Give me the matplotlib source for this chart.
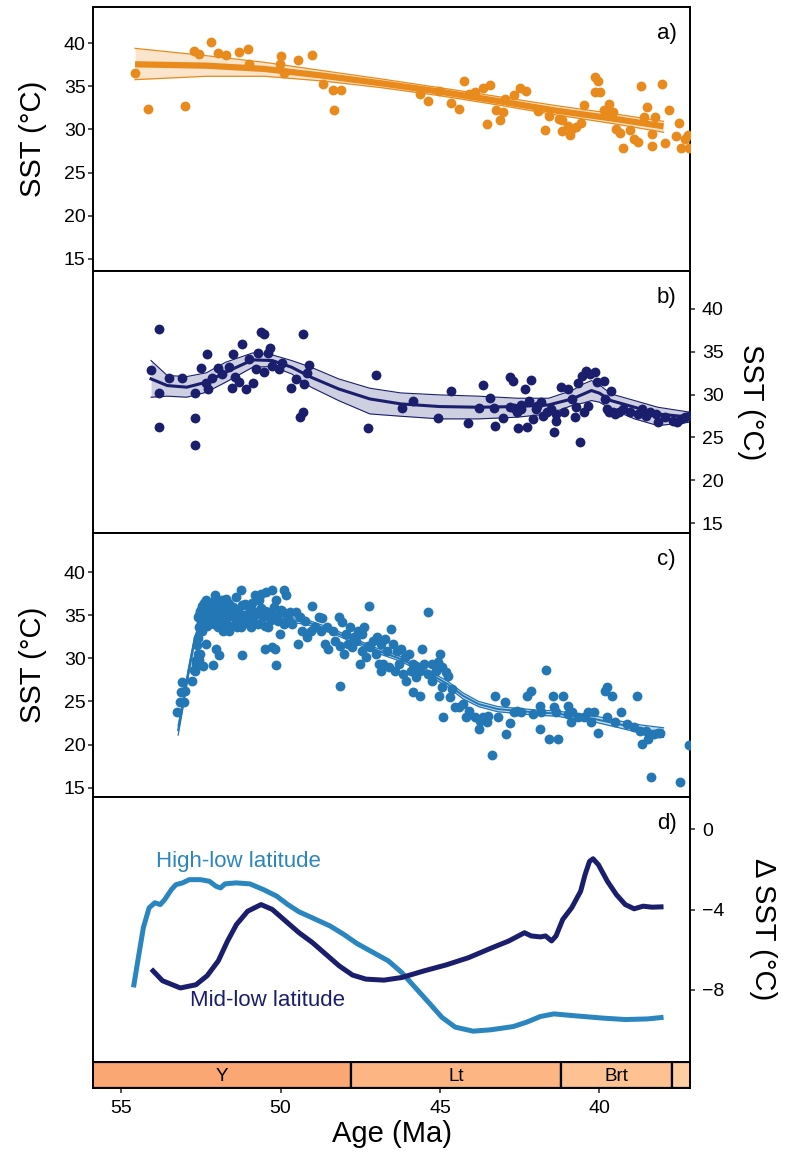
import matplotlib
matplotlib.use("Agg")
import matplotlib.pyplot as plt

plt.rcParams['font.family'] = ['Liberation Sans', 'DejaVu Sans']

# ---- panel a: mid/low-latitude SST (orange) ----
a_age = [54.56, 54.16, 53.01, 52.72, 52.54, 52.18, 51.96, 51.70, 51.31, 51.02,
         50.98, 50.01, 49.97, 49.88, 49.44, 49.00, 48.67, 48.36, 48.10, 48.31,
         45.64, 45.37, 45.04, 44.64, 44.40, 44.25, 44.09, 43.91, 43.66, 43.44,
         43.54, 43.24, 43.12, 43.03, 42.96, 42.69, 42.49, 42.30, 41.93, 41.71,
         41.57, 41.28, 41.16, 41.00, 40.92, 40.74, 40.59, 40.49, 40.15, 40.03,
         40.13, 39.98, 39.86, 39.70, 39.58, 39.49, 39.37, 39.25, 39.03, 38.91,
         38.79, 38.71, 38.60, 38.50, 38.36, 38.36, 38.27, 38.03, 37.93, 37.83,
         37.61, 37.50, 37.44, 37.32, 37.20, 37.22, 41.16, 40.86, 39.76]
a_sst = [36.6, 32.4, 32.7, 39.1, 38.7, 40.2, 38.9, 38.6, 39.0, 39.3,
         37.6, 37.6, 38.5, 36.6, 38.1, 38.6, 35.3, 34.6, 34.6, 32.2,
         34.1, 33.3, 34.5, 33.1, 32.4, 35.6, 34.1, 34.4, 34.8, 35.2,
         30.6, 32.3, 31.1, 32.0, 33.5, 34.0, 34.8, 34.5, 32.1, 29.9,
         31.6, 31.2, 29.8, 30.4, 29.4, 30.3, 30.8, 32.8, 36.1, 35.6,
         34.4, 34.4, 32.2, 33.0, 32.0, 30.0, 29.6, 27.9, 29.9, 28.9,
         28.6, 35.0, 31.4, 32.6, 29.5, 28.1, 31.4, 35.3, 28.4, 32.2,
         29.2, 30.8, 27.9, 28.9, 27.9, 29.3, 31.1, 30.1, 32.0]
a_fit_age = [54.56, 52.33, 50.50, 48.67, 46.84, 45.01, 43.18, 41.35, 39.51, 37.99]
a_fit = [37.56, 37.40, 37.02, 36.24, 35.35, 34.39, 33.30, 32.18, 31.22, 30.36]
a_fit_hi = [39.41, 38.56, 37.79, 36.82, 35.86, 34.85, 33.81, 32.76, 31.80, 30.94]
a_fit_lo = [35.78, 36.17, 36.17, 35.62, 34.85, 33.92, 32.84, 31.68, 30.64, 29.67]

# ---- panel b: mid-latitude SST (navy) ----
b_age = [54.06, 53.80, 53.80, 53.80, 53.50, 53.10, 52.67, 52.67, 52.67, 52.49,
         52.29, 52.33, 52.27, 52.15, 51.96, 51.84, 51.63, 51.50, 51.51, 51.42,
         51.29, 51.20, 51.07, 50.99, 50.87, 50.77, 50.72, 50.62, 50.52, 50.52,
         50.40, 50.32, 50.26, 50.05, 49.95, 49.68, 49.52, 49.40, 49.29, 49.28,
         49.25, 49.16, 49.10, 47.25, 47.01, 46.18, 45.85, 45.07, 44.64, 44.13,
         43.79, 43.64, 43.42, 43.30, 43.27, 43.02, 42.81, 42.71, 42.69, 42.57,
         42.54, 42.47, 42.32, 42.27, 42.20, 42.13, 42.08, 41.98, 41.83, 41.77,
         41.65, 41.53, 41.43, 41.37, 41.20, 41.10, 40.98, 40.86, 40.76, 40.67,
         40.61, 40.55, 40.49, 40.43, 40.31, 40.13, 40.07, 39.86, 39.82, 39.76,
         39.64, 39.58, 39.39, 39.27, 39.03, 38.78, 38.66, 38.54, 38.42, 38.23,
         38.15, 37.93, 37.69, 37.56, 37.44, 37.32, 37.20, 42.81, 42.45, 41.96,
         41.35, 40.73, 40.37, 39.70, 39.52]
b_sst = [32.88, 37.67, 30.16, 26.19, 31.95, 31.91, 30.16, 27.28, 24.16, 33.07,
         34.71, 31.36, 30.66, 31.91, 33.07, 32.41, 33.19, 34.75, 30.74, 32.02,
         31.44, 35.91, 30.66, 34.16, 31.32, 32.99, 34.86, 37.28, 37.08, 32.61,
         34.86, 35.45, 33.39, 32.99, 33.70, 30.78, 31.83, 27.36, 27.94, 37.08,
         31.28, 32.53, 33.50, 26.11, 32.30, 28.41, 29.30, 27.28, 30.43, 26.69,
         28.41, 31.13, 29.61, 28.41, 26.38, 27.24, 32.02, 31.63, 28.41, 27.94,
         26.11, 28.79, 30.66, 26.19, 29.30, 31.75, 27.16, 28.33, 29.11, 27.55,
         27.94, 28.33, 25.60, 26.96, 30.86, 27.94, 30.66, 29.49, 27.36, 31.36,
         24.43, 32.22, 27.94, 32.80, 32.41, 32.68, 31.44, 31.63, 29.49, 28.33,
         30.47, 27.94, 27.94, 28.33, 27.94, 27.74, 28.33, 27.55, 27.94, 27.74,
         26.77, 27.36, 26.96, 26.77, 27.16, 27.36, 27.55, 28.52, 28.33, 28.72,
         27.74, 28.52, 28.72, 28.01, 27.74]
b_fit_age = [54.06, 53.55, 52.94, 52.33, 51.72, 50.87, 50.26, 49.65, 49.04, 48.18,
             47.20, 46.23, 45.01, 43.79, 42.57, 41.59, 40.86, 40.49, 40.25, 40.00,
             39.64, 38.90, 38.17, 37.16]
b_fit = [31.83, 31.05, 30.86, 31.44, 32.61, 34.05, 33.97, 33.19, 32.02, 30.66,
         29.49, 28.91, 28.60, 28.52, 28.60, 28.79, 29.49, 30.08, 30.47, 30.16,
         29.30, 28.52, 27.74, 27.36]
b_fit_hi = [33.97, 32.22, 32.10, 32.53, 33.77, 34.86, 34.63, 33.97, 33.19, 31.83,
            30.74, 30.19, 29.96, 29.81, 29.57, 29.57, 30.47, 31.25, 31.63, 31.13,
            30.08, 29.30, 28.52, 27.94]
b_fit_lo = [29.69, 29.81, 29.69, 30.27, 31.44, 33.19, 33.27, 32.41, 30.86, 29.30,
            27.74, 27.47, 27.16, 27.16, 27.36, 27.74, 28.72, 29.03, 29.30, 29.11,
            28.33, 27.16, 26.38, 26.77]

# ---- panel c: high-latitude SST (blue) ----
c_age = [53.25, 53.16, 53.12, 53.09, 53.04, 53.00, 52.76, 52.67, 52.64, 52.60,
         52.51, 52.45, 52.33, 52.21, 52.06, 51.96, 51.84, 51.72, 51.60, 51.38,
         51.23, 51.11, 50.99, 50.80, 50.62, 50.44, 50.26, 50.13, 49.89, 49.83,
         49.71, 49.52, 49.40, 49.22, 49.01, 48.79, 48.69, 48.55, 48.36, 48.18,
         48.06, 47.94, 47.81, 47.69, 47.57, 47.45, 47.39, 47.23, 47.11, 46.96,
         46.84, 46.72, 46.53, 46.47, 46.35, 46.23, 46.11, 45.98, 45.86, 45.74,
         45.56, 45.37, 45.25, 45.07, 45.01, 44.95, 44.82, 44.74, 45.86, 45.64,
         45.04, 44.89, 44.52, 44.40, 44.18, 43.79, 43.66, 43.54, 43.38, 43.27,
         42.97, 42.93, 42.81, 42.57, 42.26, 42.16, 41.87, 41.87, 41.69, 41.59,
         41.44, 41.41, 41.29, 41.13, 41.00, 40.88, 40.86, 40.37, 40.16, 40.03,
         39.82, 39.76, 39.59, 39.33, 38.81, 38.66, 38.48, 38.37, 38.17, 37.46,
         37.20,
         52.57, 52.45, 52.39, 52.33, 52.51, 52.43, 52.11, 52.03, 51.94, 52.33,
         52.21, 52.09, 51.96, 51.84, 51.72, 51.60, 51.48, 51.35, 51.23, 51.21,
         51.05, 50.93, 50.87, 50.74, 50.56, 50.48, 50.26, 50.18, 50.13, 50.01,
         50.38, 50.50, 50.68, 50.87, 50.26, 50.07, 49.95, 49.77, 49.65, 49.46,
         49.34, 49.16, 49.04, 48.91, 48.73, 48.60, 48.50, 48.30, 48.12, 48.12,
         48.00, 47.88, 47.75, 47.63, 47.51, 47.45, 47.33, 47.27, 47.18, 47.02,
         46.90, 46.84, 46.78, 46.66, 46.59, 46.41, 46.29, 46.17, 46.05, 45.92,
         45.74, 45.62, 45.50, 45.37, 45.25, 45.13, 44.95, 44.70, 44.62, 44.28,
         44.09, 43.91, 43.73, 43.48, 43.18, 42.69, 42.45, 42.08, 41.83, 41.35,
         40.98, 40.67, 40.49, 40.25, 39.76, 39.52, 39.15, 38.90, 38.72, 38.54,
         38.29, 38.11,
         52.55, 52.50, 52.45, 52.40, 52.35, 52.30, 52.25, 52.20, 52.15, 52.10,
         52.05, 52.00, 51.95, 51.90, 51.85, 51.80, 51.75, 51.70, 51.65, 51.60,
         51.55, 51.50, 51.45, 51.40, 51.35, 51.30, 51.25, 51.20, 51.10, 51.00,
         50.90, 50.80, 50.70, 50.60, 50.50, 50.40, 50.30, 50.20, 50.10, 50.00,
         49.90, 49.80, 52.62, 52.60, 52.58, 52.66, 52.70, 52.55]
c_sst = [23.72, 24.88, 26.05, 27.21, 24.88, 26.24, 27.40, 28.57, 29.34, 34.77,
         35.54, 36.12, 36.71, 35.93, 37.29, 36.51, 36.71, 36.90, 36.32, 37.09,
         37.87, 36.32, 35.93, 37.29, 37.48, 37.67, 37.87, 36.71, 37.87, 37.29,
         35.35, 35.35, 34.77, 34.38, 36.01, 34.77, 34.69, 33.61, 33.22, 34.77,
         34.19, 32.83, 33.61, 32.44, 33.22, 32.83, 33.61, 36.01, 32.05, 32.44,
         31.67, 32.25, 33.41, 31.67, 30.89, 31.08, 30.12, 30.50, 29.34, 29.15,
         31.08, 35.35, 29.34, 29.53, 30.50, 28.95, 28.37, 27.98, 26.05, 25.58,
         25.58, 23.14, 24.30, 24.30, 23.14, 21.86, 23.14, 22.56, 18.76, 25.58,
         24.88, 21.28, 22.48, 23.91, 25.66, 26.16, 24.42, 21.86, 28.64, 20.62,
         25.58, 24.38, 20.62, 25.66, 24.50, 22.56, 23.72, 23.72, 23.72, 21.39,
         26.24, 26.71, 25.58, 23.72, 25.58, 20.12, 20.62, 16.24, 21.39, 15.70,
         19.96,
         33.61, 33.22, 33.99, 31.67, 30.50, 29.15, 29.27, 31.08, 30.43, 34.77,
         34.38, 33.99, 35.16, 34.57, 33.99, 33.22, 35.16, 34.38, 33.61, 30.43,
         34.77, 33.61, 34.38, 35.16, 34.77, 31.08, 31.28, 31.08, 29.22, 32.83,
         33.61, 35.54, 36.71, 35.54, 35.16, 34.38, 35.54, 34.57, 33.99, 31.67,
         33.22, 32.44, 33.22, 33.61, 33.22, 31.67, 31.08, 32.05, 31.47, 26.82,
         30.50, 31.67, 31.28, 32.05, 29.34, 30.89, 30.12, 31.47, 31.28, 30.50,
         29.34, 28.57, 29.34, 30.89, 28.95, 28.57, 29.34, 28.18, 27.40, 28.57,
         27.79, 28.57, 29.34, 28.18, 27.40, 28.57, 26.63, 25.47, 26.43, 24.69,
         23.93, 23.14, 22.75, 23.33, 23.14, 23.72, 23.72, 23.53, 23.72, 23.72,
         23.53, 23.14, 23.14, 22.56, 23.14, 22.56, 22.36, 21.98, 21.58, 21.58,
         21.20, 21.39,
         35.0, 34.2, 35.8, 36.4, 35.2, 33.8, 36.0, 34.8, 35.6, 36.6,
         34.4, 35.8, 33.6, 36.2, 35.0, 33.2, 35.6, 34.6, 36.4, 35.0,
         33.8, 36.0, 34.8, 35.6, 33.6, 35.2, 34.2, 36.2, 35.0, 34.0,
         36.4, 35.2, 34.0, 35.8, 33.8, 35.4, 34.4, 36.0, 34.8, 35.6,
         34.0, 35.0, 31.5, 30.5, 32.4, 29.8, 28.6, 29.8]
c_fit_age = [53.21, 53.06, 52.88, 52.70, 52.45, 51.96, 51.11, 50.50, 49.89, 49.16,
             48.42, 47.69, 46.96, 46.23, 45.50, 44.76, 44.28, 43.79, 43.18, 42.57,
             41.96, 41.35, 40.86, 40.13, 39.39, 38.66, 37.99]
c_fit = [21.67, 24.69, 28.57, 32.05, 34.69, 35.16, 35.16, 34.84, 34.57, 34.19,
         33.22, 32.05, 30.89, 29.92, 28.57, 27.02, 25.66, 24.69, 24.11, 23.91,
         23.72, 23.60, 23.33, 22.95, 22.36, 21.78, 21.39]
c_fit_hi = [22.2, 25.2, 29.0, 32.4, 35.0, 35.45, 35.45, 35.1, 34.85, 34.45,
            33.5, 32.3, 31.15, 30.2, 28.85, 27.35, 26.0, 25.0, 24.4, 24.2,
            24.0, 23.9, 23.65, 23.3, 22.75, 22.25, 21.95]
c_fit_lo = [21.1, 24.2, 28.1, 31.7, 34.4, 34.85, 34.85, 34.55, 34.3, 33.9,
            32.95, 31.8, 30.6, 29.65, 28.3, 26.7, 25.3, 24.4, 23.8, 23.6,
            23.4, 23.3, 23.0, 22.6, 21.95, 21.3, 20.85]

# ---- panel d: SST gradients ----
hl_age = [54.61, 54.44, 54.30, 54.12, 53.94, 53.77, 53.63, 53.42, 53.28, 53.07,
          52.86, 52.51, 52.23, 52.02, 51.88, 51.74, 51.39, 50.96, 50.54, 50.12,
          49.77, 49.42, 49.00, 48.44, 48.02, 47.60, 47.18, 46.62, 46.20, 45.78,
          45.36, 44.94, 44.52, 43.96, 43.40, 42.70, 42.28, 41.85, 41.43, 40.87,
          39.89, 39.19, 38.49, 37.99]
hl_dsst = [-7.87, -6.22, -4.90, -3.91, -3.66, -3.75, -3.50, -3.00, -2.76, -2.67,
           -2.51, -2.51, -2.59, -2.84, -2.92, -2.72, -2.67, -2.72, -3.00, -3.33,
           -3.75, -4.11, -4.41, -4.82, -5.23, -5.69, -6.06, -6.55, -7.13, -7.87,
           -8.61, -9.36, -9.85, -10.05, -9.98, -9.82, -9.60, -9.32, -9.19, -9.27,
           -9.40, -9.47, -9.44, -9.36]
ml_age = [54.05, 53.70, 53.14, 52.65, 52.30, 51.95, 51.66, 51.38, 51.03, 50.61,
          50.26, 49.84, 49.42, 49.00, 48.58, 48.16, 47.74, 47.32, 46.76, 46.20,
          45.50, 44.80, 44.10, 43.40, 42.84, 42.35, 42.14, 41.85, 41.69, 41.50,
          41.36, 41.15, 40.87, 40.59, 40.45, 40.31, 40.20, 40.03, 39.75, 39.47,
          39.19, 38.91, 38.63, 38.35, 37.99]
ml_dsst = [-6.96, -7.54, -7.90, -7.74, -7.29, -6.55, -5.56, -4.74, -4.08, -3.75,
           -3.99, -4.57, -5.15, -5.64, -6.22, -6.80, -7.26, -7.46, -7.51, -7.38,
           -7.05, -6.75, -6.39, -5.92, -5.56, -5.15, -5.31, -5.36, -5.31, -5.56,
           -5.31, -4.49, -3.91, -3.09, -2.26, -1.60, -1.47, -1.77, -2.59, -3.25,
           -3.75, -3.96, -3.83, -3.88, -3.86]

# ---- geologic stages ----
stage_names = ['Y', 'Lt', 'Brt', '']
stage_old = [56.0, 47.8, 41.2, 37.71]
stage_young = [47.8, 41.2, 37.71, 33.9]
stage_colors = ['#FBA774', '#FCB583', '#FDC192', '#FDCEA2']

sst_ticks = [15, 20, 25, 30, 35, 40]
d_ticks = [0, -4, -8]
age_ticks = [55, 50, 45, 40]

ORANGE = '#E88A1C'
NAVY = '#1B1E6C'
BLUE = '#2377B4'
LBLUE = '#2B86BF'
XLIM = (55.87, 37.16)

fig = plt.figure(figsize=(7.92, 11.62), dpi=100)
L, W = 0.1178, 0.7534
ax_a = fig.add_axes([L, 0.7670, W, 0.2269])
ax_b = fig.add_axes([L, 0.5410, W, 0.2260])
ax_c = fig.add_axes([L, 0.3144, W, 0.2267])
ax_d = fig.add_axes([L, 0.0863, W, 0.2281])
ax_t = fig.add_axes([L, 0.0634, W, 0.0229])

for ax in (ax_a, ax_b, ax_c, ax_d, ax_t):
    ax.set_xlim(*XLIM)
    for s in ax.spines.values():
        s.set_linewidth(1.4)
        s.set_color('black')
    ax.tick_params(axis='both', length=3.5, width=1.2, color='#333333',
                   labelsize=14, labelcolor='black', pad=2)
    ax.tick_params(axis='x', bottom=False, labelbottom=False)

# panel a
ax_a.fill_between(a_fit_age, a_fit_lo, a_fit_hi, color='#FBE4CC', lw=0)
ax_a.plot(a_fit_age, a_fit_hi, color=ORANGE, lw=0.9)
ax_a.plot(a_fit_age, a_fit_lo, color=ORANGE, lw=0.9)
ax_a.scatter(a_age, a_sst, s=50, color=ORANGE, lw=0, zorder=3)
ax_a.plot(a_fit_age, a_fit, color=ORANGE, lw=4.5, zorder=4, solid_capstyle='butt')
ax_a.set_ylim(13.6, 44.2)
ax_a.set_yticks(sst_ticks)
ax_a.set_ylabel('SST (°C)', fontsize=21, labelpad=12)

# panel b
ax_b.fill_between(b_fit_age, b_fit_lo, b_fit_hi, color='#CED0E2', lw=0)
ax_b.plot(b_fit_age, b_fit_hi, color=NAVY, lw=0.8)
ax_b.plot(b_fit_age, b_fit_lo, color=NAVY, lw=0.8)
ax_b.plot(b_fit_age, b_fit, color=NAVY, lw=2.2)
ax_b.scatter(b_age, b_sst, s=50, color=NAVY, lw=0, zorder=3)
ax_b.set_ylim(13.8, 44.45)
ax_b.set_yticks(sst_ticks)
ax_b.yaxis.tick_right()
ax_b.yaxis.set_label_position('right')
ax_b.tick_params(axis='y', pad=5)
ax_b.set_ylabel('SST (°C)', fontsize=21, rotation=270, labelpad=30)

# panel c
ax_c.fill_between(c_fit_age, c_fit_lo, c_fit_hi, color='#C3D9EC', lw=0)
ax_c.plot(c_fit_age, c_fit_hi, color=BLUE, lw=0.9)
ax_c.plot(c_fit_age, c_fit_lo, color=BLUE, lw=0.9)
ax_c.plot(c_fit_age, c_fit, color=BLUE, lw=1.4)
ax_c.scatter(c_age, c_sst, s=50, color=BLUE, lw=0, zorder=3)
ax_c.set_ylim(13.96, 44.5)
ax_c.set_yticks(sst_ticks)
ax_c.set_ylabel('SST (°C)', fontsize=21, labelpad=12)

# panel d
ax_d.plot(hl_age, hl_dsst, color=LBLUE, lw=3.6, solid_capstyle='butt')
ax_d.plot(ml_age, ml_dsst, color=NAVY, lw=3.6, solid_capstyle='butt')
ax_d.set_ylim(-11.57, 1.62)
ax_d.set_yticks(d_ticks)
ax_d.yaxis.tick_right()
ax_d.yaxis.set_label_position('right')
ax_d.tick_params(axis='y', pad=5)
ax_d.set_ylabel('Δ SST (°C)', fontsize=21, rotation=270, labelpad=38)
ax_d.text(53.9, -1.6, 'High-low latitude', color=LBLUE, fontsize=16,
          ha='left', va='center')
ax_d.text(52.85, -8.5, 'Mid-low latitude', color=NAVY, fontsize=16,
          ha='left', va='center')

for ax, lab in zip((ax_a, ax_b, ax_c, ax_d), ('a)', 'b)', 'c)', 'd)')):
    ax.text(0.961, 0.90, lab, transform=ax.transAxes, fontsize=16,
            ha='center', va='center')

# stage bar
for name, o, y, col in zip(stage_names, stage_old, stage_young, stage_colors):
    ax_t.barh(0.5, y - o, left=o, height=1, color=col, edgecolor='black', lw=1.6)
    mid = (min(o, XLIM[0]) + max(y, XLIM[1])) / 2
    if name:
        ax_t.text(mid, 0.45, name, fontsize=13.5, ha='center', va='center')
ax_t.set_ylim(0, 1)
ax_t.set_yticks([])
ax_t.set_xticks(age_ticks)
ax_t.tick_params(axis='x', bottom=True, labelbottom=True, labelsize=14, pad=5)
ax_t.set_xlabel('Age (Ma)', fontsize=21, labelpad=2)

fig.savefig('out.png', dpi=100)
